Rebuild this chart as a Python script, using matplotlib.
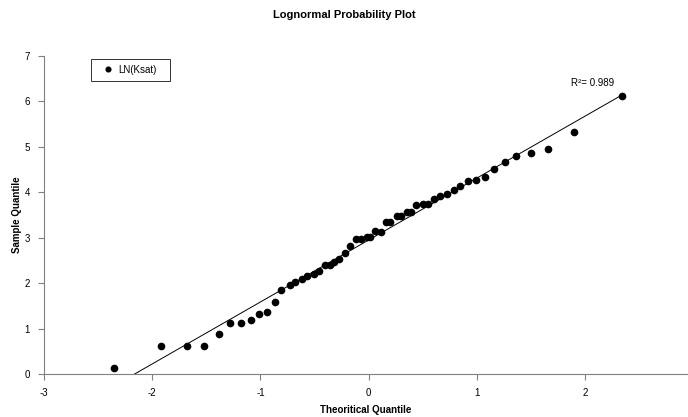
import numpy as np
import matplotlib.pyplot as plt

plt.rcParams['font.family'] = ['Liberation Sans', 'DejaVu Sans']
plt.rcParams['axes.unicode_minus'] = False

# theoretical quantiles (x) and sample quantiles LN(Ksat) (y)
theo_q = [-2.35, -1.92, -1.68, -1.52, -1.38, -1.28, -1.18, -1.09, -1.01, -0.94,
          -0.87, -0.81, -0.73, -0.68, -0.62, -0.57, -0.51, -0.46, -0.40, -0.36,
          -0.32, -0.27, -0.22, -0.17, -0.12, -0.07, -0.02, 0.01, 0.06, 0.11,
          0.16, 0.20, 0.26, 0.30, 0.35, 0.39, 0.44, 0.50, 0.55, 0.60,
          0.66, 0.72, 0.79, 0.84, 0.92, 0.99, 1.07, 1.16, 1.26, 1.36,
          1.50, 1.66, 1.90, 2.34]
sample_q = [0.13, 0.62, 0.62, 0.62, 0.89, 1.12, 1.12, 1.20, 1.33, 1.37,
            1.59, 1.85, 1.96, 2.03, 2.10, 2.15, 2.21, 2.26, 2.39, 2.39,
            2.47, 2.53, 2.67, 2.81, 2.97, 2.97, 3.01, 3.01, 3.14, 3.13,
            3.35, 3.35, 3.47, 3.47, 3.57, 3.57, 3.73, 3.75, 3.74, 3.86,
            3.92, 3.96, 4.04, 4.14, 4.24, 4.27, 4.34, 4.52, 4.66, 4.80,
            4.86, 4.96, 5.32, 6.11]
r2_label = "R²= 0.989"

x = np.array(theo_q)
y = np.array(sample_q)
slope, intercept = np.polyfit(x, y, 1)

fig = plt.figure(figsize=(6.88, 4.17), dpi=100)
ax = fig.add_axes([0.064, 0.103, 0.936, 0.763])

ax.plot(x, y, 'o', color='black', ms=4.5, label='LN(Ksat)', zorder=3)
xs = np.array([x.min(), x.max()])
ax.plot(xs, slope * xs + intercept, color='black', lw=0.7, zorder=2)

ax.set_xlim(-3, 2.95)
ax.set_ylim(0, 7)
ax.set_xticks([-3, -2, -1, 0, 1, 2])
ax.set_yticks(range(0, 8))

for side in ['top', 'right']:
    ax.spines[side].set_visible(False)
for side in ['left', 'bottom']:
    ax.spines[side].set_color('#808080')
    ax.spines[side].set_linewidth(0.8)
ax.tick_params(direction='out', length=4, width=0.8, color='#808080',
               labelsize=7, pad=6)

fig.text(0.5, 0.964, 'Lognormal Probability Plot', fontsize=8,
         fontweight='bold', ha='center', va='center')
ax.set_xlabel('Theoritical Quantile', fontsize=7, fontweight='bold', labelpad=5)
ax.set_ylabel('Sample Quantile', fontsize=7, fontweight='bold', labelpad=2)

ax.text(2.27, 6.3, r2_label, fontsize=7, ha='right', va='bottom')

leg = ax.legend(loc='upper left', bbox_to_anchor=(0.073, 0.9, 0.122, 0.09),
                mode='expand', fontsize=7, handletextpad=0.05,
                handlelength=2.2, borderpad=0.6, borderaxespad=0,
                frameon=True, fancybox=False, markerscale=0.75)
leg.get_frame().set_edgecolor('black')
leg.get_frame().set_linewidth(0.7)

fig.savefig('out.png', dpi=100)
